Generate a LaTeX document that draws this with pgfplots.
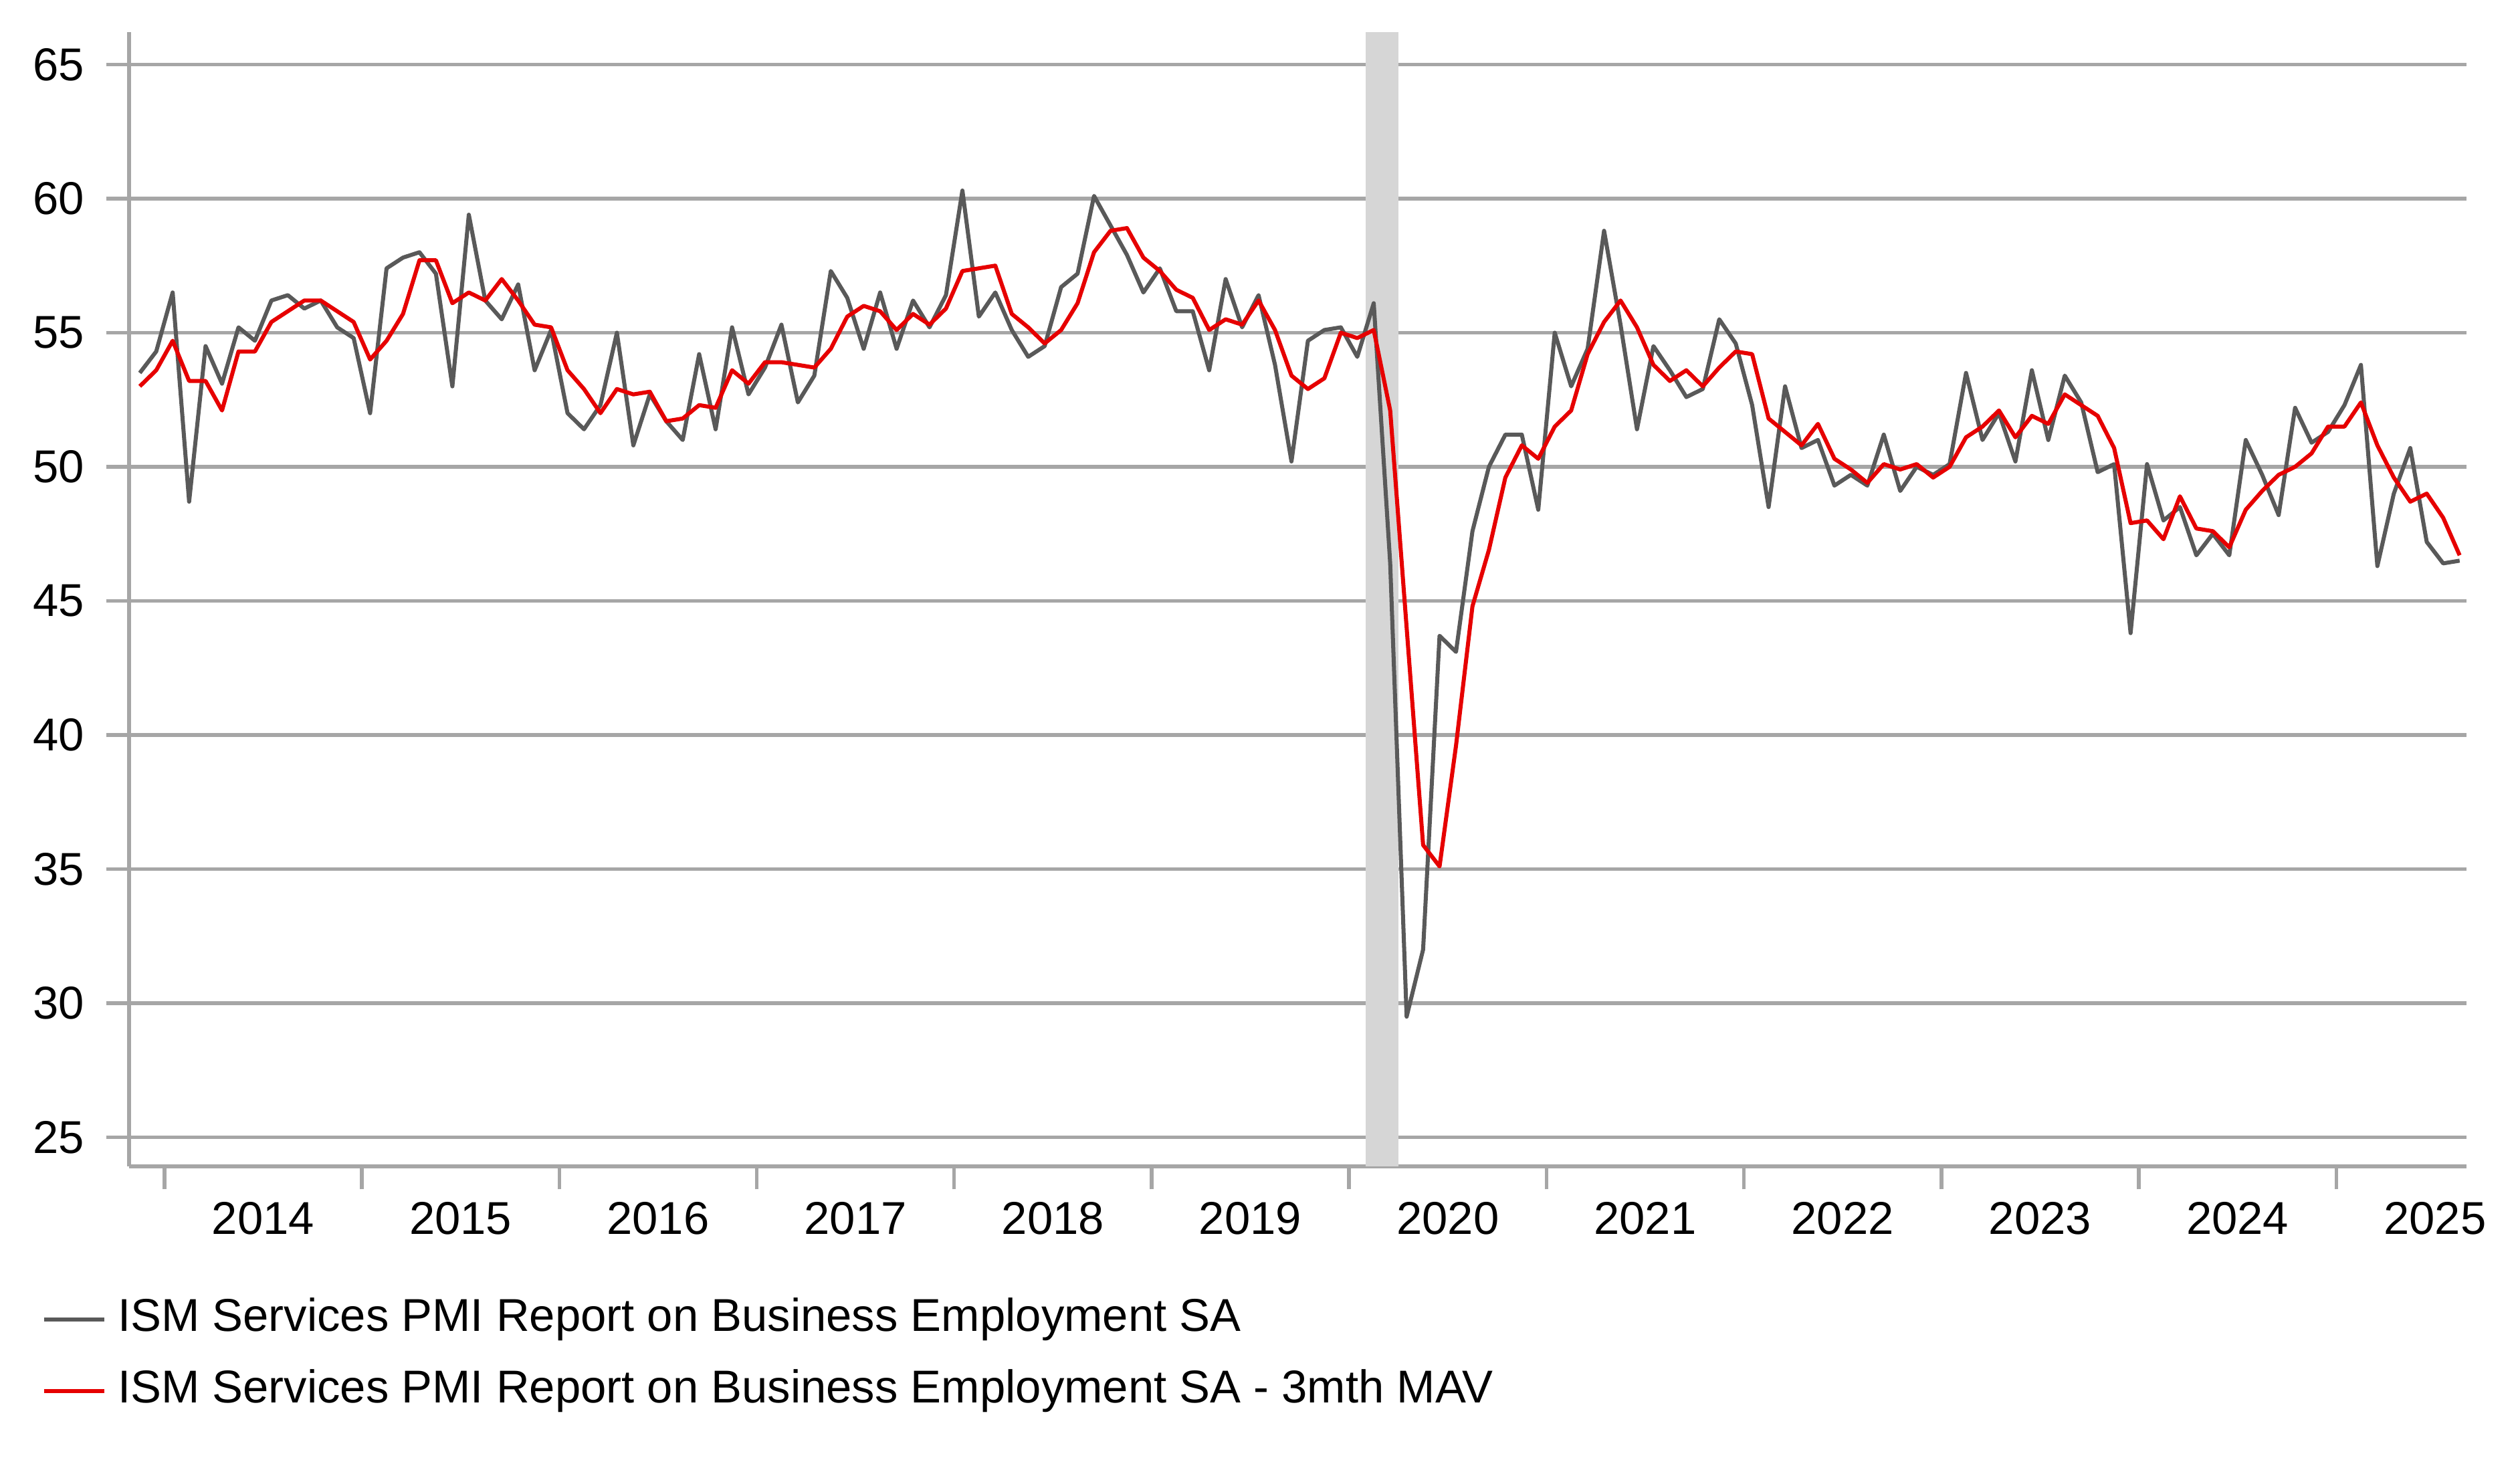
\documentclass[border=0pt]{standalone}
\usepackage{fontspec}
\setmainfont{Liberation Sans}
\usepackage{pgfplots}
\pgfplotsset{compat=1.18}
\usepackage{pgfplotstable}
\definecolor{gridgray}{HTML}{A6A6A6}
\definecolor{serA}{HTML}{595959}
\definecolor{serB}{HTML}{E60000}
\definecolor{shade}{HTML}{D6D6D6}

% i = month index, 0 = Nov 2013 ... 141 = Aug 2025
\pgfplotstableread{
i b r
0 53.5 53.0
1 54.3 53.6
2 56.5 54.7
3 48.7 53.2
4 54.5 53.2
5 53.1 52.1
6 55.2 54.3
7 54.7 54.3
8 56.2 55.4
9 56.4 55.8
10 55.9 56.2
11 56.2 56.2
12 55.2 55.8
13 54.8 55.4
14 52.0 54.0
15 57.4 54.7
16 57.8 55.7
17 58.0 57.7
18 57.2 57.7
19 53.0 56.1
20 59.4 56.5
21 56.2 56.2
22 55.5 57.0
23 56.8 56.2
24 53.6 55.3
25 55.1 55.2
26 52.0 53.6
27 51.4 52.9
28 52.3 52.0
29 55.0 52.9
30 50.8 52.7
31 52.7 52.8
32 51.7 51.7
33 51.0 51.8
34 54.2 52.3
35 51.4 52.2
36 55.2 53.6
37 52.7 53.1
38 53.7 53.9
39 55.3 53.9
40 52.4 53.8
41 53.4 53.7
42 57.3 54.4
43 56.3 55.6
44 54.4 56.0
45 56.5 55.8
46 54.4 55.1
47 56.2 55.7
48 55.2 55.3
49 56.4 55.9
50 60.3 57.3
51 55.6 57.4
52 56.5 57.5
53 55.1 55.7
54 54.1 55.2
55 54.5 54.6
56 56.7 55.1
57 57.2 56.1
58 60.1 58.0
59 59.0 58.8
60 57.9 58.9
61 56.5 57.8
62 57.4 57.3
63 55.8 56.6
64 55.8 56.3
65 53.6 55.1
66 57.0 55.5
67 55.2 55.3
68 56.4 56.2
69 53.8 55.1
70 50.2 53.4
71 54.7 52.9
72 55.1 53.3
73 55.2 55.0
74 54.1 54.8
75 56.1 55.1
76 46.4 52.1
77 29.5 44.0
78 32.0 35.9
79 43.7 35.1
80 43.1 39.6
81 47.6 44.8
82 50.0 46.9
83 51.2 49.6
84 51.2 50.8
85 48.4 50.3
86 55.0 51.5
87 53.0 52.1
88 54.4 54.2
89 58.8 55.4
90 55.3 56.2
91 51.4 55.2
92 54.5 53.8
93 53.6 53.2
94 52.6 53.6
95 52.9 53.0
96 55.5 53.7
97 54.6 54.3
98 52.3 54.2
99 48.5 51.8
100 53.0 51.3
101 50.7 50.8
102 51.0 51.6
103 49.3 50.3
104 49.7 49.9
105 49.3 49.4
106 51.2 50.1
107 49.1 49.9
108 50.0 50.1
109 49.7 49.6
110 50.1 50.0
111 53.5 51.1
112 51.0 51.5
113 52.0 52.1
114 50.2 51.1
115 53.6 51.9
116 51.0 51.6
117 53.4 52.7
118 52.4 52.3
119 49.8 51.9
120 50.1 50.7
121 43.8 47.9
122 50.1 48.0
123 48.0 47.3
124 48.5 48.9
125 46.7 47.7
126 47.5 47.6
127 46.7 47.0
128 51.0 48.4
129 49.7 49.1
130 48.2 49.7
131 52.2 50.0
132 50.9 50.5
133 51.3 51.5
134 52.3 51.5
135 53.8 52.4
136 46.3 50.8
137 49.0 49.6
138 50.7 48.7
139 47.2 49.0
140 46.4 48.1
141 46.5 46.7
}\datatable

\begin{document}
\begin{tikzpicture}
\path[use as bounding box] (0,0) rectangle (624pt,364.4pt);
\begin{axis}[
  at={(31.96pt,75.6pt)}, anchor=south west,
  scale only axis, width=578.8pt, height=280.8pt,
  xmin=-0.65, xmax=141.42, ymin=23.92, ymax=66.2,
  axis x line*=bottom, axis y line*=left,
  axis line style={gridgray, line width=0.9pt, -},
  ytick={25,30,35,40,45,50,55,60,65},
  ymajorgrids, grid style={gridgray, line width=0.9pt},
  xtick={1.5,13.5,25.5,37.5,49.5,61.5,73.5,85.5,97.5,109.5,121.5,133.5},
  xticklabel=\empty,
  extra x ticks={7.5,19.5,31.5,43.5,55.5,67.5,79.5,91.5,103.5,115.5,127.5,139.5},
  extra x tick labels={2014,2015,2016,2017,2018,2019,2020,2021,2022,2023,2024,2025},
  extra x tick style={major tick length=0pt, xticklabel style={yshift=-5.4pt}},
  tick align=outside,
  major tick length=5.7pt,
  tick style={gridgray, line width=0.9pt},
  /pgf/number format/assume math mode=true,
  tick label style={font=\fontsize{11.4}{13}\selectfont, text=black},
  yticklabel style={xshift=-1.9pt},
  legend style={at={(0,0)}, anchor=north west, xshift=-21.6pt, yshift=-32.7pt,
    draw=none, fill=none, inner sep=0pt, outer sep=0pt, row sep=7pt, column sep=2.8pt,
    font=\fontsize{11.4}{13}\selectfont,
    nodes={inner sep=0pt, text height=8.2pt, text depth=2.4pt}},
  legend cell align=left,
  legend image code/.code={\draw[#1] (0pt,0pt) -- (15pt,0pt);},
]
\addplot[draw=none, fill=shade, forget plot]
  coordinates {(74.5,23.92) (74.5,66.2) (76.5,66.2) (76.5,23.92)} -- cycle;
\addplot[serA, line width=1pt, line join=round] table[x=i, y=b] {\datatable};
\addlegendentry{ISM Services PMI Report on Business Employment SA}
\addplot[serB, line width=1pt, line join=round] table[x=i, y=r] {\datatable};
\addlegendentry{ISM Services PMI Report on Business Employment SA - 3mth MAV}
\end{axis}
\end{tikzpicture}
\end{document}
